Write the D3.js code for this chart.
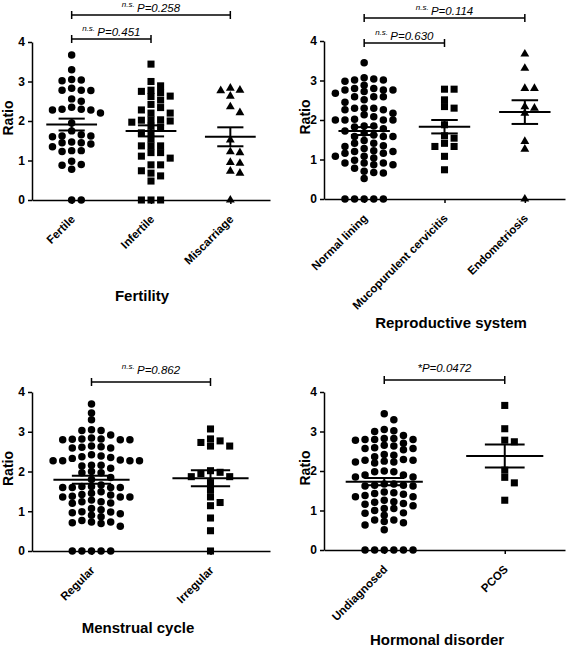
<!DOCTYPE html>
<html><head><meta charset="utf-8">
<script src="https://cdn.jsdelivr.net/npm/d3@7"></script>
<style>
body{margin:0;background:#fff}
svg{display:block}
text{font-family:"Liberation Sans",Arial,Helvetica,sans-serif;fill:#000}
</style>
</head><body>
<svg id="chart" width="567" height="647"></svg>
<script>
// ---------------- DATA ----------------
const yTickValues = [0, 1, 2, 3, 4];

// Panel 1: Fertility
const fertilityCategories = ["Fertile", "Infertile", "Miscarriage"];
const fertileValues = [3.67, 3.30, 3.05, 3.02, 3.04, 2.83, 2.78, 2.77, 2.78, 2.56, 2.50, 2.30, 2.28, 2.35, 2.28, 2.30, 2.20, 1.95, 1.75, 1.62, 1.65, 1.60, 1.62, 1.45, 1.42, 1.47, 1.45, 1.35, 1.25, 1.23, 1.25, 0.98, 0.88, 0.90, 0.78, 0, 0];
const infertileValues = [3.44, 3.00, 2.89, 2.78, 2.75, 2.72, 2.62, 2.53, 2.63, 2.42, 2.34, 2.28, 2.20, 2.20, 2.03, 2.00, 2.02, 1.97, 2.03, 1.87, 1.85, 1.70, 1.70, 1.54, 1.37, 1.37, 1.37, 1.11, 1.20, 1.20, 1.06, 0.89, 0.89, 0.74, 0.68, 0.61, 0.48, 0, 0, 0];
const miscarriageValues = [2.78, 2.63, 2.77, 2.83, 2.36, 2.21, 1.52, 1.20, 1.22, 0.95, 0.93, 0.73, 0.68, 0];
const fertilityMeans = [1.91, 1.75, 1.60];
const fertilitySems = [0.15, 0.14, 0.24];
const fertilityPvalues = [{a: "Fertile", b: "Miscarriage", ns: "n.s.", p: "P=0.258"}, {a: "Fertile", b: "Infertile", ns: "n.s.", p: "P=0.451"}];

// Panel 2: Reproductive system
const reproCategories = ["Normal lining", "Mucopurulent cervicitis", "Endometriosis"];
const normalLiningValues = [3.45, 3.07, 3.04, 3.01, 3.01, 2.98, 2.88, 2.80, 2.80, 2.76, 2.76, 2.76, 2.72, 2.68, 2.59, 2.59, 2.59, 2.51, 2.45, 2.30, 2.30, 2.26, 2.26, 2.30, 2.17, 2.13, 2.08, 2.02, 2.00, 2.00, 2.00, 2.00, 1.85, 1.82, 1.85, 1.78, 1.67, 1.72, 1.58, 1.58, 1.62, 1.58, 1.41, 1.33, 1.35, 1.41, 1.48, 1.28, 1.20, 1.16, 1.20, 1.16, 1.22, 1.08, 1.04, 1.08, 0.98, 0.91, 0.91, 0.87, 0.91, 0.87, 0.70, 0.66, 0.78, 0.67, 0.52, 0, 0, 0, 0, 0];
const mucopurulentValues = [2.78, 2.78, 2.51, 2.34, 2.30, 1.88, 1.54, 1.60, 1.41, 1.33, 1.33, 1.08, 0.74];
const endometriosisValues = [3.67, 3.31, 2.80, 2.80, 2.30, 2.34, 2.17, 1.46, 1.26, 0];
const reproMeans = [1.72, 1.83, 2.20];
const reproSems = [0.10, 0.17, 0.30];
const reproPvalues = [{a: "Normal lining", b: "Endometriosis", ns: "n.s.", p: "P=0.114"}, {a: "Normal lining", b: "Mucopurulent cervicitis", ns: "n.s.", p: "P=0.630"}];

// Panel 3: Menstrual cycle
const menstrualCategories = ["Regular", "Irregular"];
const regularValues = [3.70, 3.47, 3.30, 3.03, 3.03, 3.05, 2.92, 2.84, 2.81, 2.80, 2.80, 2.80, 2.82, 2.82, 2.64, 2.59, 2.62, 2.59, 2.61, 2.42, 2.37, 2.39, 2.27, 2.27, 2.29, 2.35, 2.27, 2.33, 2.27, 2.16, 2.14, 2.16, 2.00, 1.97, 1.97, 2.08, 1.85, 1.80, 1.62, 1.60, 1.62, 1.66, 1.60, 1.60, 1.60, 1.49, 1.42, 1.45, 1.36, 1.36, 1.38, 1.41, 1.36, 1.24, 1.20, 1.24, 1.21, 1.28, 1.07, 1.04, 0.99, 0.96, 0.90, 0.94, 0.98, 0.86, 0.77, 0.73, 0.69, 0.62, 0.71, 0.73, 0, 0, 0, 0, 0];
const irregularValues = [3.07, 2.82, 2.73, 2.64, 2.64, 2.77, 1.98, 1.87, 1.87, 1.95, 2.02, 1.72, 1.53, 1.36, 1.22, 1.14, 0.83, 0.51, 0];
const menstrualMeans = [1.79, 1.83];
const menstrualSems = [0.10, 0.20];
const menstrualPvalues = [{a: "Regular", b: "Irregular", ns: "n.s.", p: "P=0.862"}];

// Panel 4: Hormonal disorder
const hormonalCategories = ["Undiagnosed", "PCOS"];
const undiagnosedValues = [3.45, 3.30, 3.05, 3.02, 2.90, 3.00, 2.80, 2.80, 2.82, 2.78, 2.80, 2.82, 2.65, 2.59, 2.57, 2.70, 2.54, 2.57, 2.63, 2.42, 2.40, 2.27, 2.23, 2.27, 2.20, 2.23, 2.25, 2.29, 2.36, 2.00, 1.90, 1.85, 1.90, 1.85, 1.98, 1.98, 1.67, 1.64, 1.62, 1.67, 1.62, 1.64, 1.47, 1.41, 1.35, 1.38, 1.35, 1.43, 1.45, 1.22, 1.12, 1.18, 1.26, 1.05, 1.05, 1.16, 1.21, 0.94, 0.88, 1.00, 0.76, 0.72, 0.76, 0.93, 0.69, 0.63, 0.51, 0, 0, 0, 0, 0, 0];
const pcosValues = [3.66, 3.07, 2.78, 2.74, 2.02, 1.84, 1.70, 1.26];
const hormonalMeans = [1.73, 2.38];
const hormonalSems = [0.09, 0.29];
const hormonalPvalues = [{a: "Undiagnosed", b: "PCOS", ns: "", p: "*P=0.0472"}];

// ---------------- LAYOUT ----------------
const panels = [
  {title: "Fertility", cats: fertilityCategories, series: [fertileValues, infertileValues, miscarriageValues],
   shapes: ["circle", "square", "triangle"], means: fertilityMeans, sems: fertilitySems, pv: fertilityPvalues,
   x0: 32, x1: 270, yb: 200, yt: 42, ratioX: 13, titleX: 142, titleY: 301, bracketY: [15, 39], textOff: 3.5},
  {title: "Reproductive system", cats: reproCategories, series: [normalLiningValues, mucopurulentValues, endometriosisValues],
   shapes: ["circle", "square", "triangle"], means: reproMeans, sems: reproSems, pv: reproPvalues,
   x0: 324, x1: 565, yb: 199, yt: 41, ratioX: 310, titleX: 451, titleY: 328, bracketY: [18, 43], textOff: 3.5},
  {title: "Menstrual cycle", cats: menstrualCategories, series: [regularValues, irregularValues],
   shapes: ["circle", "square"], means: menstrualMeans, sems: menstrualSems, pv: menstrualPvalues,
   x0: 32, x1: 270, yb: 551, yt: 392, ratioX: 13, titleX: 138, titleY: 633, bracketY: [382], textOff: 8},
  {title: "Hormonal disorder", cats: hormonalCategories, series: [undiagnosedValues, pcosValues],
   shapes: ["circle", "square"], means: hormonalMeans, sems: hormonalSems, pv: hormonalPvalues,
   x0: 324, x1: 565, yb: 550, yt: 392, ratioX: 310, titleX: 437, titleY: 645, bracketY: [380], textOff: 8}
];

const svg = d3.select("#chart");
const symbolTypes = {circle: d3.symbolCircle, square: d3.symbolSquare, triangle: d3.symbolTriangle};
const symbolSizes = {circle: 44, square: 50, triangle: 34};
const COL_GAP = 9.6;   // horizontal spacing between columns of dots
const ROW_GAP = 6.2;   // minimal vertical spacing inside a column

// grid beeswarm (GraphPad-like): each dot goes into the column nearest the
// centre where it does not overlap a dot already placed in that column
function swarm(values, y) {
  const pts = values.map(v => ({v, py: y(v)})).sort((a, b) => a.py - b.py);
  const cols = new Map();
  const order = [0];
  for (let k = 1; k < 20; k++) order.push(k, -k);
  for (const p of pts) {
    for (const k of order) {
      const c = cols.get(k) || [];
      if (c.every(q => Math.abs(q - p.py) >= ROW_GAP)) {
        c.push(p.py); cols.set(k, c); p.dx = k * COL_GAP; break;
      }
    }
  }
  return pts;
}

panels.forEach(P => {
  const g = svg.append("g");
  const x = d3.scalePoint().domain(P.cats).range([P.x0, P.x1]).padding(0.5);
  const y = d3.scaleLinear().domain([0, 4]).range([P.yb, P.yt]);
  const step = x.step();

  // y axis
  const ya = g.append("g").attr("transform", `translate(${P.x0},0)`)
    .call(d3.axisLeft(y).tickValues(yTickValues).tickFormat(d3.format("d")).tickSize(4).tickSizeOuter(0).tickPadding(3));
  // x axis
  const xa = g.append("g").attr("transform", `translate(0,${P.yb})`)
    .call(d3.axisBottom(x).tickSize(4).tickSizeOuter(0).tickFormat(""));
  [ya, xa].forEach(a => {
    a.selectAll("path,line").attr("stroke", "#000").attr("stroke-width", 1.5);
    a.selectAll("text").style("font-size", "12px").style("font-weight", "bold").attr("fill", "#000");
  });

  // category labels (rotated)
  g.selectAll(".cat").data(P.cats).join("text")
    .attr("transform", d => `translate(${x(d) + 4},${P.yb + 20}) rotate(-45)`)
    .attr("text-anchor", "end")
    .style("font-size", "11.5px").style("font-weight", "bold")
    .text(d => d);

  // Ratio label
  g.append("text")
    .attr("transform", `translate(${P.ratioX},${(P.yb + P.yt) / 2 - 3}) rotate(-90)`)
    .attr("text-anchor", "middle")
    .style("font-size", "14px").style("font-weight", "bold")
    .text("Ratio");

  // title
  g.append("text").attr("x", P.titleX).attr("y", P.titleY)
    .attr("text-anchor", "middle")
    .style("font-size", "15px").style("font-weight", "bold")
    .text(P.title);

  // points
  P.series.forEach((vals, i) => {
    const cx = x(P.cats[i]);
    const pts = swarm(vals, y);
    const sym = d3.symbol().type(symbolTypes[P.shapes[i]]).size(symbolSizes[P.shapes[i]]);
    g.append("g").selectAll("path").data(pts).join("path")
      .attr("d", sym)
      .attr("transform", d => `translate(${cx + d.dx},${d.py})`)
      .attr("fill", "#000");

    // mean and SEM
    const m = P.means[i], s = P.sems[i];
    const mh = step * 0.32, sh = step * 0.165;
    const lg = g.append("g").attr("stroke", "#000").attr("stroke-width", 2);
    lg.append("line").attr("x1", cx - mh).attr("x2", cx + mh).attr("y1", y(m)).attr("y2", y(m));
    lg.append("line").attr("x1", cx - sh).attr("x2", cx + sh).attr("y1", y(m + s)).attr("y2", y(m + s));
    lg.append("line").attr("x1", cx - sh).attr("x2", cx + sh).attr("y1", y(m - s)).attr("y2", y(m - s));
    lg.append("line").attr("x1", cx).attr("x2", cx).attr("y1", y(m + s)).attr("y2", y(m - s));
  });

  // significance brackets
  P.pv.forEach((b, k) => {
    const by = P.bracketY[k];
    const xa1 = x(b.a), xb1 = x(b.b);
    const bg = g.append("g").attr("stroke", "#000").attr("stroke-width", 1.5);
    bg.append("line").attr("x1", xa1).attr("x2", xb1).attr("y1", by).attr("y2", by);
    bg.append("line").attr("x1", xa1).attr("x2", xa1).attr("y1", by - 4).attr("y2", by + 4);
    bg.append("line").attr("x1", xb1).attr("x2", xb1).attr("y1", by - 4).attr("y2", by + 4);
    const t = g.append("text").attr("x", (xa1 + xb1) / 2).attr("y", by - P.textOff)
      .attr("text-anchor", "middle").style("font-style", "italic");
    if (b.ns) {
      t.append("tspan").style("font-size", "8px").attr("dy", -5).text(b.ns + " ");
      t.append("tspan").style("font-size", "11.5px").attr("dy", 5).text(b.p);
    } else {
      t.append("tspan").style("font-size", "11.5px").text(b.p);
    }
  });
});
</script>
</body></html>
